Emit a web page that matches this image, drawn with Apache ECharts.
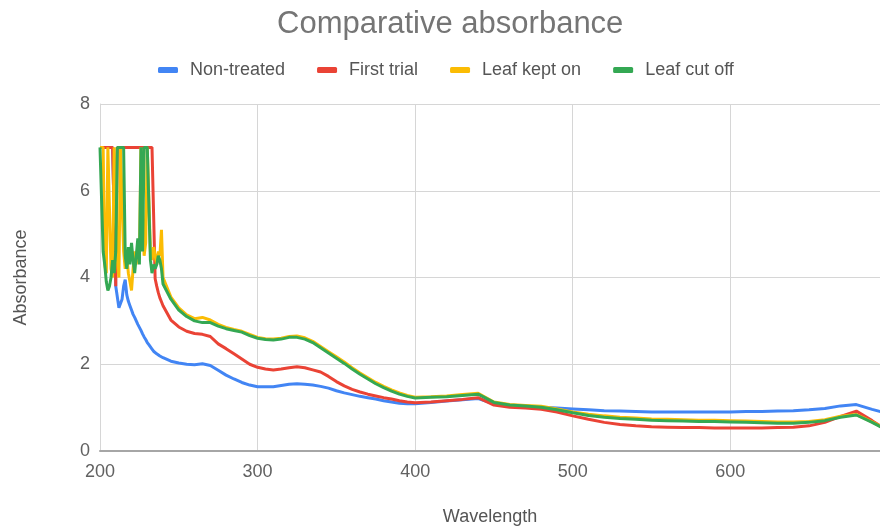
<!DOCTYPE html>
<html>
<head>
<meta charset="utf-8">
<script src="https://cdn.jsdelivr.net/npm/echarts@6/dist/echarts.min.js"></script>
<style>
  html, body { margin: 0; padding: 0; background: #fff; }
  #chart { width: 880px; height: 531px; }
</style>
</head>
<body>
<div id="chart"></div>
<script>
// Wavelength (nm): 1 nm steps over the saturated UV region, coarser further out
const wavelengths = [
  200,201,202,203,204,205,206,207,208,209,
  210,211,212,213,214,215,216,217,218,219,
  220,221,222,223,224,225,226,227,228,229,
  230,231,232,233,234,235,236,237,238,239,240,
  245,250,255,260,265,270,275,280,285,290,295,300,305,310,315,320,
  325,330,335,340,345,350,355,360,365,370,375,380,385,390,395,400,
  410,420,430,440,450,460,470,480,490,500,510,520,530,540,550,
  560,570,580,590,600,610,620,630,640,650,660,670,680,690,700
];

const nonTreated = [
  7,7,7,7,7,7,7,7,7,7,
  3.8,3.55,3.3,3.4,3.5,3.8,3.95,3.6,3.45,3.35,
  3.25,3.15,3.08,3.0,2.92,2.85,2.78,2.7,2.63,2.57,
  2.5,2.45,2.4,2.35,2.3,2.27,2.24,2.21,2.19,2.17,2.15,
  2.07,2.03,2.0,1.99,2.01,1.97,1.86,1.75,1.66,1.58,1.52,1.48,1.48,1.48,1.51,1.54,
  1.55,1.54,1.52,1.49,1.45,1.39,1.34,1.3,1.26,1.23,1.2,1.16,1.13,1.1,1.09,1.09,
  1.12,1.15,1.18,1.21,1.09,1.05,1.03,1.01,0.99,0.97,0.95,0.93,0.92,0.91,0.9,
  0.9,0.9,0.9,0.9,0.9,0.91,0.91,0.92,0.93,0.95,0.98,1.04,1.07,0.96,0.86
];

const firstTrial = [
  7,7,7,7,7,7,7,7,7,7,
  3.8,7,7,7,7,7,7,7,7,7,
  7,7,7,7,7,7,7,7,7,7,
  7,7,7,7,7,3.97,3.8,3.65,3.53,3.44,3.35,
  3.02,2.86,2.76,2.71,2.69,2.64,2.47,2.36,2.24,2.12,2.0,1.93,1.89,1.87,1.89,1.92,
  1.94,1.92,1.87,1.82,1.72,1.6,1.5,1.42,1.36,1.31,1.27,1.23,1.2,1.16,1.13,1.11,
  1.13,1.16,1.19,1.23,1.06,1.01,0.99,0.96,0.9,0.81,0.73,0.66,0.61,0.58,0.56,
  0.55,0.54,0.54,0.53,0.53,0.53,0.53,0.54,0.55,0.58,0.66,0.8,0.92,0.7,0.46
];

const leafKeptOn = [
  7,7,7,4.3,4.1,7,7,4.2,4.0,7,
  7,4.4,4.0,7,7,4.6,4.2,4.5,4.1,3.9,
  3.7,4.2,4.6,4.3,4.7,4.4,7,7,4.5,4.8,
  7,7,4.6,4.4,4.7,4.5,4.3,4.6,4.5,5.1,4.0,
  3.55,3.3,3.14,3.05,3.08,3.02,2.92,2.85,2.8,2.76,2.69,2.62,2.59,2.58,2.6,2.64,
  2.65,2.61,2.53,2.41,2.29,2.17,2.05,1.92,1.8,1.69,1.58,1.49,1.41,1.34,1.28,1.24,
  1.25,1.27,1.3,1.33,1.13,1.07,1.05,1.03,0.97,0.9,0.85,0.81,0.78,0.76,0.74,
  0.73,0.72,0.71,0.71,0.7,0.69,0.68,0.67,0.67,0.68,0.72,0.8,0.84,0.67,0.48
];

const leafCutOff = [
  7,7,4.6,4.3,3.9,3.7,3.8,4.0,4.4,4.1,
  4.6,7,7,7,7,7,4.5,4.2,4.7,4.3,
  4.8,4.4,4.1,4.5,4.9,4.3,7,4.6,7,7,
  7,7,4.4,4.1,4.3,4.2,4.3,4.5,4.4,4.2,3.85,
  3.5,3.25,3.1,3.0,2.96,2.96,2.88,2.82,2.78,2.74,2.66,2.6,2.57,2.56,2.58,2.62,
  2.62,2.58,2.5,2.38,2.26,2.14,2.02,1.89,1.77,1.66,1.55,1.46,1.38,1.31,1.26,1.22,
  1.24,1.25,1.28,1.31,1.12,1.06,1.04,1.01,0.95,0.88,0.82,0.78,0.75,0.73,0.71,
  0.7,0.69,0.68,0.68,0.67,0.66,0.65,0.64,0.64,0.66,0.7,0.78,0.83,0.66,0.47
];

const seriesNames = ['Non-treated', 'First trial', 'Leaf kept on', 'Leaf cut off'];
const seriesColors = ['#4285F4', '#EA4335', '#FBBC04', '#34A853'];
const seriesValues = [nonTreated, firstTrial, leafKeptOn, leafCutOff];

const FONT = '"Liberation Sans", Arial, sans-serif';

const chart = echarts.init(document.getElementById('chart'), null, { renderer: 'canvas' });

chart.setOption({
  animation: false,
  backgroundColor: '#ffffff',
  color: seriesColors,
  title: {
    text: 'Comparative absorbance',
    left: 272,
    top: 4,
    textStyle: { fontFamily: FONT, fontSize: 31, fontWeight: 'normal', color: '#757575' }
  },
  legend: {
    left: 153,
    top: 56,
    itemWidth: 20,
    itemHeight: 6,
    itemGap: 32,
    icon: 'roundRect',
    data: seriesNames,
    textStyle: { fontFamily: FONT, fontSize: 18, color: '#555555', padding: [0, 0, 0, 7] }
  },
  grid: { left: 100, right: 0, top: 104, bottom: 78, containLabel: false },
  xAxis: {
    type: 'value',
    min: 200,
    max: 695,
    interval: 100,
    name: 'Wavelength',
    nameLocation: 'middle',
    nameGap: 57,
    nameTextStyle: { fontFamily: FONT, fontSize: 18, color: '#555555' },
    axisLine: { show: true, lineStyle: { color: '#a6a6a6', width: 2 } },
    axisTick: { show: false },
    axisLabel: { fontFamily: FONT, fontSize: 18, color: '#616161', margin: 12, showMaxLabel: false },
    splitLine: { show: true, lineStyle: { color: '#d6d6d6', width: 1 } }
  },
  yAxis: {
    type: 'value',
    min: 0,
    max: 8,
    interval: 2,
    name: 'Absorbance',
    nameLocation: 'middle',
    nameGap: 70,
    nameTextStyle: { fontFamily: FONT, fontSize: 18, color: '#555555' },
    axisLine: { show: true, lineStyle: { color: '#d6d6d6', width: 1 } },
    axisTick: { show: false },
    axisLabel: { fontFamily: FONT, fontSize: 18, color: '#616161', margin: 10 },
    splitLine: { show: true, lineStyle: { color: '#d6d6d6', width: 1 } }
  },
  series: seriesValues.map((vals, i) => ({
    name: seriesNames[i],
    type: 'line',
    showSymbol: false,
    symbol: 'none',
    clip: true,
    lineStyle: { width: 3, color: seriesColors[i] },
    itemStyle: { color: seriesColors[i] },
    data: wavelengths.map((w, k) => [w, vals[k]])
  }))
});
</script>
</body>
</html>
